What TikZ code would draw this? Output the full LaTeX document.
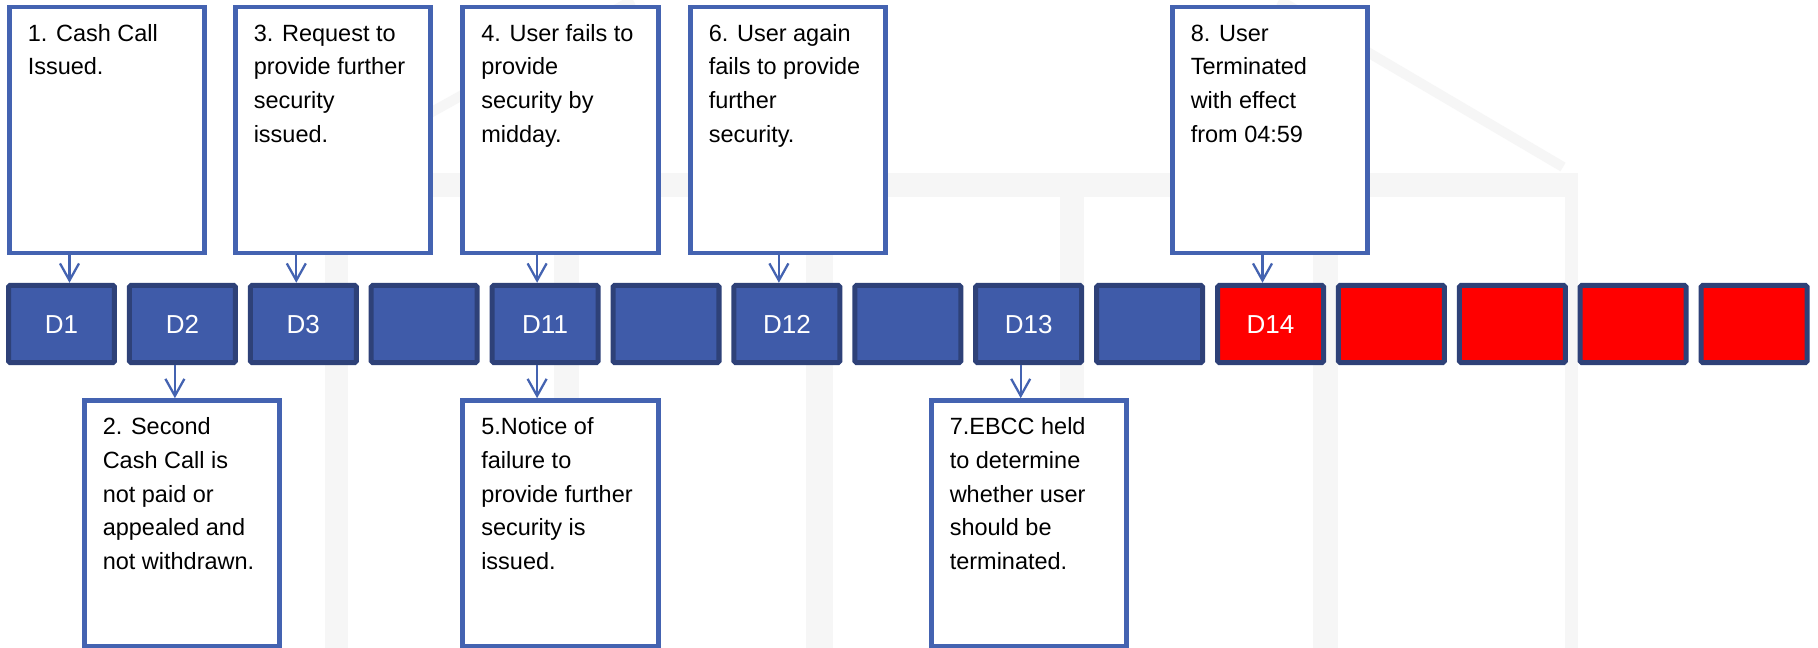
\documentclass[tikz,border=0pt]{standalone}
\usepackage{fontspec}
\setmainfont{Liberation Sans}
\usetikzlibrary{arrows.meta}
\definecolor{dayblue}{RGB}{63,91,169}
\definecolor{dayline}{RGB}{46,65,120}
\definecolor{noteline}{RGB}{68,99,177}
\definecolor{markgray}{RGB}{246,246,246}
\newcommand{\notetext}[1]{\parbox[t][4.5cm][t]{3.17cm}{\raggedright\strut#1}}

\begin{document}
\begin{tikzpicture}[x=0.02cm,y=-0.02cm,>={Straight Barb[length=3.4mm,width=3.8mm]},
    day node/.style={rectangle,draw=dayline,fill=dayblue,line width=2.85pt,rounded corners=1pt,minimum width=2.12cm,minimum height=1.55cm,inner sep=0pt,text=white,text height=10.6pt,text depth=0pt,font=\fontsize{14.8pt}{17pt}\selectfont},
    red node/.style={day node,fill=red},
    note node/.style={rectangle,draw=noteline,fill=white,line width=2.67pt,minimum width=3.91cm,inner xsep=0.37cm,inner ysep=0.21cm,font=\fontsize{13.37pt}{19.2pt}\selectfont},
    link/.style={->,draw=noteline,line width=1.3pt}]
   \useasboundingbox[fill=white] (0,0) rectangle (1818,648);
   % faint building in the background
   \begin{scope}
     \fill[markgray] (325,173) rectangle (1578,197);
     \fill[markgray] (325,197) rectangle (348,648);
     \fill[markgray] (554,197) rectangle (579,648);
     \fill[markgray] (806,197) rectangle (833,648);
     \fill[markgray] (1060,197) rectangle (1084,648);
     \fill[markgray] (1313,197) rectangle (1338,648);
     \fill[markgray] (1565,197) rectangle (1578,648);
     \draw[markgray,line width=0.2cm] (333,167) -- (633,0);
     \draw[markgray,line width=0.2cm] (1279,0) -- (1563,167);
   \end{scope}
   % the days
   \node[day node] (b1) at (61.5,324) {D1};
   \node[day node] (b2) at (182.4,324) {D2};
   \node[day node] (b3) at (303.3,324) {D3};
   \node[day node] (b4) at (424.2,324) {};
   \node[day node] (b5) at (545.1,324) {D11};
   \node[day node] (b6) at (666,324) {};
   \node[day node] (b7) at (786.9,324) {D12};
   \node[day node] (b8) at (907.8,324) {};
   \node[day node] (b9) at (1028.7,324) {D13};
   \node[day node] (b10) at (1149.6,324) {};
   \node[red node] (b11) at (1270.5,324) {D14};
   \node[red node] (b12) at (1391.4,324) {};
   \node[red node] (b13) at (1512.3,324) {};
   \node[red node] (b14) at (1633.2,324) {};
   \node[red node] (b15) at (1754.1,324) {};
   % notes above
   \node[note node] (n1) at (107,130) {\notetext{1. Cash Call\\Issued.}};
   \node[note node] (n3) at (333,130) {\notetext{3. Request to\\provide further\\security\\issued.}};
   \node[note node] (n4) at (560.5,130) {\notetext{4. User fails to\\provide\\security by\\midday.}};
   \node[note node] (n6) at (788,130) {\notetext{6. User again\\fails to provide\\further\\security.}};
   \node[note node] (n8) at (1270,130) {\notetext{8. User\\Terminated\\with effect\\from 04:59}};
   % notes below
   \node[note node] (n2) at (182,523.5) {\notetext{2. Second\\Cash Call is\\not paid or\\appealed and\\not withdrawn.}};
   \node[note node] (n5) at (560.5,523.5) {\notetext{5.Notice of\\failure to\\provide further\\security is\\issued.}};
   \node[note node] (n7) at (1029,523.5) {\notetext{7.EBCC held\\to determine\\whether user\\should be\\terminated.}};
   % arrows
   \draw[link] ([xshift=0.16cm]b1.north |- n1.south) -- ([xshift=0.16cm]b1.north);
   \draw[link] ([xshift=-0.14cm]b3.north |- n3.south) -- ([xshift=-0.14cm]b3.north);
   \draw[link] ([xshift=-0.16cm]b5.north |- n4.south) -- ([xshift=-0.16cm]b5.north);
   \draw[link] ([xshift=-0.16cm]b7.north |- n6.south) -- ([xshift=-0.16cm]b7.north);
   \draw[link] ([xshift=-0.16cm]b11.north |- n8.south) -- ([xshift=-0.16cm]b11.north);
   \draw[link] ([xshift=-0.15cm]b2.south) -- ([xshift=-0.15cm]b2.south |- n2.north);
   \draw[link] ([xshift=-0.16cm]b5.south) -- ([xshift=-0.16cm]b5.south |- n5.north);
   \draw[link] ([xshift=-0.16cm]b9.south) -- ([xshift=-0.16cm]b9.south |- n7.north);
\end{tikzpicture}
\end{document}
